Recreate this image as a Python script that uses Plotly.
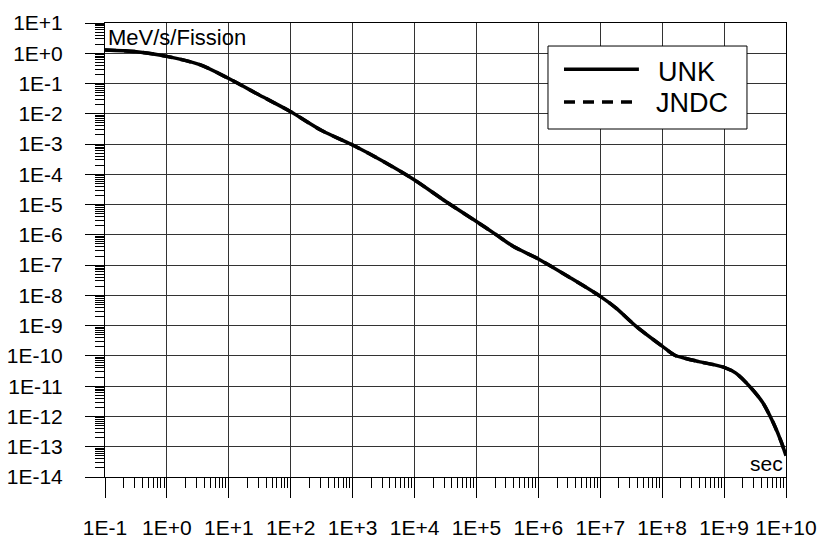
import plotly.graph_objects as go

# Time after fission (s)
time_s = [0.1, 0.3, 1, 3.4, 10, 31.6, 100, 316, 1000, 3100, 1e4, 3.2e4, 1e5, 2.1e5,
          3.9e5, 1e6, 3.16e6, 1e7, 1.8e7, 3.8e7, 1e8, 1.6e8, 2.5e8, 3.9e8, 1e9,
          1.55e9, 2.57e9, 4.2e9, 6.2e9, 8.5e9, 1e10]
# Decay heat, MeV/s/Fission
unk = [1.29, 1.14, 0.79, 0.42, 0.146, 0.041, 0.0117, 2.8e-3, 9.3e-4, 2.7e-4, 6.5e-5,
       1.26e-5, 2.75e-6, 1.0e-6, 4.2e-7, 1.6e-7, 4.0e-8, 9.3e-9, 3.8e-9, 9.5e-10,
       2.1e-10, 1.05e-10, 8.1e-11, 6.5e-11, 4.2e-11, 2.7e-11, 1.0e-11, 2.9e-12,
       6.3e-13, 1.35e-13, 5.0e-14]
jndc = [1.29, 1.14, 0.79, 0.42, 0.146, 0.041, 0.0117, 2.8e-3, 9.3e-4, 2.7e-4, 6.5e-5,
        1.26e-5, 2.75e-6, 1.0e-6, 4.2e-7, 1.6e-7, 4.0e-8, 9.3e-9, 3.8e-9, 9.5e-10,
        2.1e-10, 1.05e-10, 8.1e-11, 6.5e-11, 4.2e-11, 2.7e-11, 1.0e-11, 2.9e-12,
        6.3e-13, 1.35e-13, 5.0e-14]

x_exps = list(range(-1, 11))
y_exps = list(range(-14, 2))
x_ticktext = [f"1E{e:+d}" for e in x_exps]
y_ticktext = [f"1E{e:+d}" for e in y_exps]
x_tickvals = [10.0 ** e for e in x_exps]
y_tickvals = [10.0 ** e for e in y_exps]
x_minor = [m * 10.0 ** e for e in x_exps[:-1] for m in range(2, 10)]
y_minor = [m * 10.0 ** e for e in y_exps[:-1] for m in range(2, 10)]

FONT = "Liberation Sans, Arial, sans-serif"

fig = go.Figure()
fig.add_trace(go.Scatter(x=time_s, y=jndc, mode="lines", name="JNDC",
                         line=dict(color="black", width=3.5, dash="11px,8px",
                                   shape="spline", smoothing=0.8)))
fig.add_trace(go.Scatter(x=time_s, y=unk, mode="lines", name="UNK",
                         line=dict(color="black", width=3.5, shape="spline", smoothing=0.8)))

axis_common = dict(
    type="log", showline=True, linecolor="black", linewidth=1, mirror=True,
    showgrid=True, gridcolor="#333", gridwidth=1, zeroline=False,
    ticks="outside", tickcolor="black", tickwidth=1,
    tickfont=dict(family=FONT, size=21, color="black"),
    tickmode="array", automargin=False,
)

fig.update_xaxes(**axis_common, range=[-1, 10], tickvals=x_tickvals, ticktext=x_ticktext,
                 ticklen=20, ticklabelstandoff=12,
                 minor=dict(tickmode="array", tickvals=x_minor, ticks="outside",
                            ticklen=10, tickcolor="black", tickwidth=1, showgrid=False))
fig.update_yaxes(**axis_common, range=[-14, 1], tickvals=y_tickvals, ticktext=y_ticktext,
                 ticklen=19, ticklabelstandoff=18,
                 minor=dict(tickmode="array", tickvals=y_minor, ticks="outside",
                            ticklen=9, tickcolor="black", tickwidth=1, showgrid=False))

# custom legend (paper coordinates)
shapes = [
    dict(type="rect", xref="paper", yref="paper", x0=0.6505, x1=0.9427, y0=0.7665, y1=0.9493,
         line=dict(color="black", width=1), fillcolor="white", layer="above"),
    dict(type="line", xref="paper", yref="paper", x0=0.674, x1=0.784, y0=0.898, y1=0.898,
         line=dict(color="black", width=3.5)),
    dict(type="line", xref="paper", yref="paper", x0=0.674, x1=0.784, y0=0.826, y1=0.826,
         line=dict(color="black", width=3.5, dash="11px,8px")),
]
annotations = [
    dict(text="UNK", xref="paper", yref="paper", x=0.809, y=0.893, xanchor="left",
         yanchor="middle", showarrow=False, font=dict(family=FONT, size=27, color="black")),
    dict(text="JNDC", xref="paper", yref="paper", x=0.8066, y=0.8245, xanchor="left",
         yanchor="middle", showarrow=False, font=dict(family=FONT, size=27, color="black")),
    dict(text="MeV/s/Fission", xref="paper", yref="paper", x=0, y=1, xanchor="left",
         yanchor="top", xshift=1, showarrow=False,
         font=dict(family=FONT, size=22, color="black")),
    dict(text="sec", xref="paper", yref="paper", x=1, y=0, xanchor="right",
         yanchor="bottom", xshift=-1, showarrow=False,
         font=dict(family=FONT, size=21, color="black")),
]

fig.update_layout(
    width=821, height=538,
    margin=dict(l=105, r=35, t=23, b=61),
    paper_bgcolor="white", plot_bgcolor="white",
    showlegend=False,
    shapes=shapes, annotations=annotations,
)

fig.write_html("out.html")
